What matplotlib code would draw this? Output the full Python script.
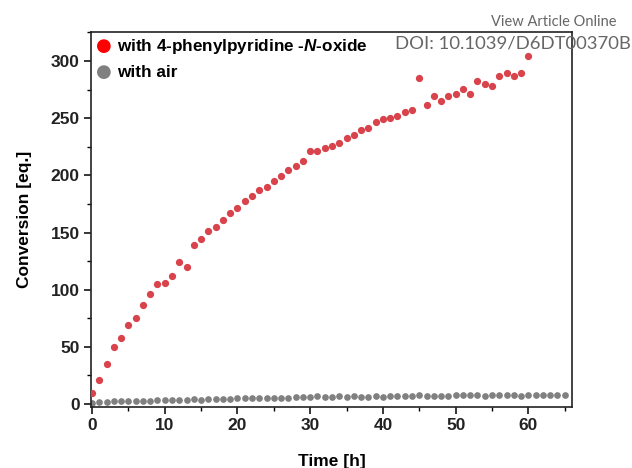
import numpy as np
import matplotlib.pyplot as plt
from matplotlib.ticker import MultipleLocator

plt.rcParams['font.family'] = ['Liberation Sans', 'DejaVu Sans']
plt.rcParams['mathtext.fontset'] = 'custom'
plt.rcParams['mathtext.bfit'] = 'Liberation Sans:bold:italic'

# conversion with the N-oxide, one reading per hour (0-60 h)
t_oxide = np.arange(0, 61)
conv_oxide = [9.4, 21.3, 34.7, 49.6, 58.0, 69.4, 75.5, 86.3, 96.5, 105.2,
              105.8, 111.9, 123.9, 119.8, 138.7, 144.5, 151.0, 154.7, 160.8, 167.2,
              171.0, 177.2, 181.8, 186.8, 189.9, 194.9, 199.6, 204.5, 208.2, 212.7,
              220.9, 220.9, 223.8, 225.8, 228.4, 233.1, 234.9, 239.5, 241.0, 246.5,
              249.7, 250.0, 252.0, 255.5, 257.3, 285.0, 261.4, 269.2, 265.1, 269.2,
              271.6, 275.3, 271.6, 282.3, 280.0, 278.0, 287.3, 289.9, 287.0, 289.6,
              304.8]

# conversion under air (0-65 h)
t_air = np.arange(0, 66)
conv_air = [1.2, 1.8, 2.0, 2.5, 2.4, 2.6, 2.8, 3.0, 2.9, 3.2,
            3.3, 3.4, 3.3, 3.8, 3.9, 3.6, 4.3, 4.5, 4.6, 4.7,
            5.0, 5.0, 5.2, 5.3, 5.4, 5.3, 5.6, 5.6, 5.7, 5.8,
            6.0, 6.6, 5.9, 6.3, 6.6, 6.0, 6.6, 6.4, 6.5, 6.6,
            6.5, 6.8, 7.2, 7.0, 7.1, 7.4, 7.3, 7.0, 7.2, 7.1,
            7.4, 7.5, 7.4, 7.5, 6.8, 8.0, 8.1, 7.8, 7.5, 7.2,
            7.7, 7.9, 8.0, 8.2, 8.1, 8.0]

fig = plt.figure(figsize=(6.32, 4.68), dpi=100)
ax = fig.add_axes([0.1445, 0.131, 0.7605, 0.7996])

ax.plot(t_oxide, conv_oxide, 'o', ms=4.2, color='#d9434b', mec='#d9434b', zorder=3)
ax.plot(t_air, conv_air, 'o', ms=3.8, color='#808080', mec='#808080', zorder=2)

ax.set_xlim(-0.1, 66)
ax.set_ylim(-2.4, 325)
ax.xaxis.set_major_locator(MultipleLocator(10))
ax.xaxis.set_minor_locator(MultipleLocator(5))
ax.yaxis.set_major_locator(MultipleLocator(50))
ax.yaxis.set_minor_locator(MultipleLocator(25))
ax.tick_params(which='major', direction='out', length=5, width=1.1, labelsize=12.5)
ax.tick_params(which='minor', direction='out', length=3, width=1.0)
for lab in ax.get_xticklabels() + ax.get_yticklabels():
    lab.set_fontweight('bold')
    lab.set_color('#222222')
for sp in ax.spines.values():
    sp.set_linewidth(1.2)
    sp.set_color('#222222')

ax.set_xlabel('Time [h]', fontsize=12.5, fontweight='bold', labelpad=15)
ax.set_ylabel('Conversion [eq.]', fontsize=12.5, fontweight='bold', labelpad=13)

# legend entries drawn by hand
fig.text(0.165, 0.901, '\u25cf', color='#ff0000', fontsize=13, ha='center', va='center',
         family=['DejaVu Sans'])
fig.text(0.165, 0.846, '\u25cf', color='#808080', fontsize=13, ha='center', va='center',
         family=['DejaVu Sans'])
fig.text(0.185, 0.901, r'with 4-phenylpyridine -$\mathbfit{N}$-oxide', fontsize=12.3,
         fontweight='bold', ha='left', va='center')
fig.text(0.185, 0.846, 'with air', fontsize=12.3, fontweight='bold', ha='left', va='center')

fig.text(0.976, 0.954, 'View Article Online', fontsize=10.5, color='#666666',
         ha='right', va='center', family=['Lato', 'DejaVu Sans'])
fig.text(0.998, 0.907, 'DOI: 10.1039/D6DT00370B', fontsize=13.3, color='#666666',
         ha='right', va='center', family=['Lato', 'DejaVu Sans'])

fig.savefig('out.png', dpi=100)
